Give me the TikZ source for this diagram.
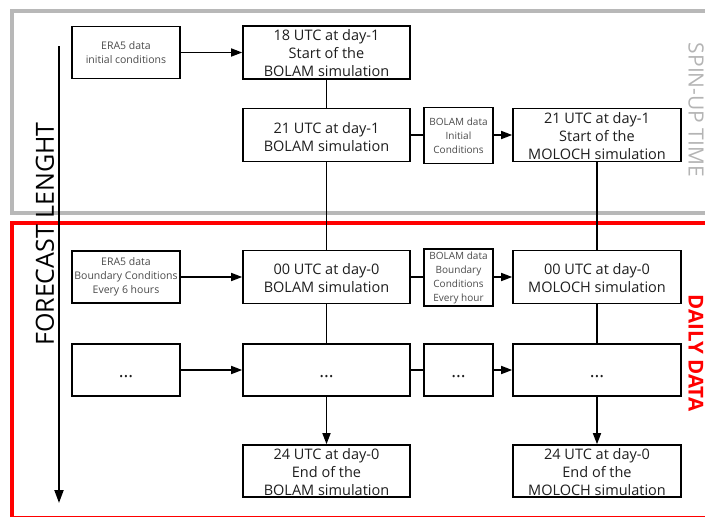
\documentclass[tikz,border=0pt]{standalone}
\usepackage{fontspec}
\setmainfont{Open Sans}
\usetikzlibrary{arrows.meta}
\definecolor{spingray}{HTML}{B4B4B4}
\definecolor{frame gray}{HTML}{B8B8B8}
\definecolor{dailyred}{HTML}{FF0000}
\definecolor{txt}{HTML}{1E1E1E}
\definecolor{smalltxt}{HTML}{4A4A4A}
\begin{document}
\begin{tikzpicture}[x=1pt,y=-1pt,
  bigbox/.style={draw, line width=1.6pt, minimum width=167pt, minimum height=53pt, inner sep=0pt},
  molbox/.style={bigbox, minimum width=168pt},
  srcbox/.style={draw, line width=1.6pt, minimum width=108pt, minimum height=52pt, inner sep=0pt},
  midbox/.style={draw, line width=1.2pt, minimum width=69pt, minimum height=56pt, inner sep=0pt},
  bigtxt/.style={align=center, inner sep=0pt, text=txt, font=\fontsize{14.5}{18}\selectfont},
  srctxt/.style={align=center, inner sep=0pt, text=smalltxt, font=\fontsize{10.5}{14}\selectfont},
  midtxt/.style={align=center, inner sep=0pt, text=smalltxt, font=\fontsize{10}{14}\selectfont},
  dots/.style={inner sep=0pt, text=txt, font=\fontsize{18}{18}\selectfont},
  link/.style={line width=1.5pt},
  arrowlink/.style={line width=1.5pt, -{Triangle[length=11pt,width=8pt]}},
  sidelabel/.style={inner sep=0pt}
]
\useasboundingbox (0,0) rectangle (705,517);
\clip (0,0) rectangle (705,517);

% frames
\draw[frame gray, line width=4pt] (12,11) rectangle (712,213);
\draw[dailyred, line width=4.5pt] (12,223) rectangle (712,518.5);

% side labels
\node[sidelabel, text=spingray, rotate=-90, font=\fontsize{21}{24}\selectfont] (spin) at (696,110) {SPIN-UP TIME};
\node[sidelabel, text=dailyred, rotate=-90, font=\bfseries\fontsize{20.5}{24}\selectfont] (daily) at (696,353) {DAILY DATA};
\node[inner sep=0pt, rotate=90, text=black, font=\fontsize{25}{30}\selectfont] (fl) at (45,234) {FORECAST LENGHT};

% long arrow
\coordinate (fltop) at (59,46);
\coordinate (flbot) at (59,503);
\draw[line width=2pt, -{Triangle[length=13pt,width=9pt]}] (fltop) -- (flbot);

% row 1
\node[srcbox] (era5i) at (126,52.5) {};
\node[srctxt] (era5it) at (era5i.center) {ERA5 data\\initial conditions};
\node[bigbox] (b18) at (326.5,52.5) {};
\node[bigtxt] (b18t) at ([yshift=-1]b18.center) {18 UTC at day-1\\Start of the\\BOLAM simulation};

% row 2
\node[bigbox] (b21) at (326.5,135) {};
\node[bigtxt] (b21t) at ([yshift=-2]b21.center) {21 UTC at day-1\\BOLAM simulation};
\node[midbox] (bic) at (458.5,135.5) {};
\node[midtxt] (bict) at (bic.center) {BOLAM data\\Initial\\Conditions};
\node[molbox] (m21) at (597,135) {};
\node[bigtxt] (m21t) at ([yshift=-1]m21.center) {21 UTC at day-1\\Start of the\\MOLOCH simulation};

% row 3
\node[srcbox] (era5b) at (126,277) {};
\node[srctxt] (era5bt) at (era5b.center) {ERA5 data\\Boundary Conditions\\Every 6 hours};
\node[bigbox] (b00) at (326.5,277) {};
\node[bigtxt] (b00t) at ([yshift=-1.5]b00.center) {00 UTC at day-0\\BOLAM simulation};
\node[midbox, minimum height=57pt] (bbc) at (458.5,277.5) {};
\node[midtxt] (bbct) at (bbc.center) {BOLAM data\\Boundary\\Conditions\\Every hour};
\node[molbox] (m00) at (597,277) {};
\node[bigtxt] (m00t) at ([yshift=-1.5]m00.center) {00 UTC at day-0\\MOLOCH simulation};

% row 4
\node[srcbox] (dsrc) at (126,370) {};
\node[dots] (dsrct) at ([yshift=-7]dsrc.center) {...};
\node[bigbox, minimum height=52pt] (db) at (326.5,370) {};
\node[dots] (dbt) at ([yshift=-7]db.center) {...};
\node[midbox, minimum height=52pt] (dmid) at (458.5,370) {};
\node[dots] (dmidt) at ([yshift=-7]dmid.center) {...};
\node[molbox, minimum height=52pt] (dm) at (597,370) {};
\node[dots] (dmt) at ([yshift=-7]dm.center) {...};

% row 5
\node[bigbox, minimum height=52pt] (b24) at (326.5,471) {};
\node[bigtxt] (b24t) at ([yshift=-1]b24.center) {24 UTC at day-0\\End of the\\BOLAM simulation};
\node[molbox, minimum height=52pt] (m24) at (597,471) {};
\node[bigtxt] (m24t) at ([yshift=-1]m24.center) {24 UTC at day-0\\End of the\\MOLOCH simulation};

% connectors
\draw[arrowlink] (era5i) -- (b18);
\draw[link] (b18) -- (b21);
\draw[link] (b21) -- (b00);
\draw[link] (b00) -- (db);
\draw[arrowlink] (db) -- (b24);
\draw[link] (b21.east) -- (bic.west |- b21.east);
\draw[arrowlink] (bic.east |- m21.west) -- (m21.west);
\draw[link] (m21) -- (m00);
\draw[link] (m00) -- (dm);
\draw[arrowlink] (dm) -- (m24);
\draw[arrowlink] (era5b) -- (b00);
\draw[link] (b00.east) -- (bbc.west |- b00.east);
\draw[arrowlink] (bbc.east |- m00.west) -- (m00.west);
\draw[arrowlink] (dsrc) -- (db);
\draw[link] (db) -- (dmid);
\draw[arrowlink] (dmid) -- (dm);
\end{tikzpicture}
\end{document}
